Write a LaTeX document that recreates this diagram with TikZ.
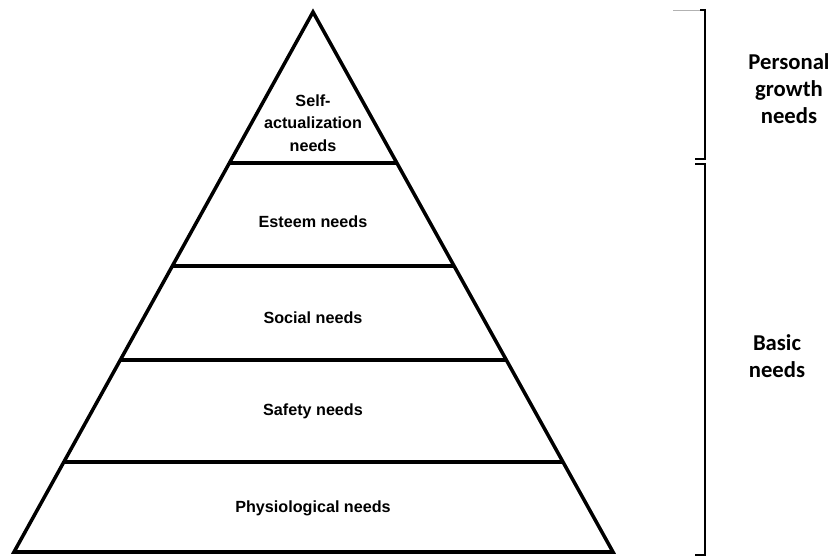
\documentclass[tikz,border=0pt]{standalone}
\usepackage{fontspec}
\setmainfont{Liberation Sans}
\newfontfamily\sidefont{Carlito}

\tikzset{
  level/.style={font=\fontsize{9.2}{12.8}\selectfont\bfseries, align=center},
  side/.style={font=\fontsize{12.9}{15.3}\selectfont\sidefont\bfseries, align=center},
  wall/.style={line width=2pt, line join=miter},
  brace/.style={line width=1.2pt}
}

\begin{document}
\begin{tikzpicture}[x=0.02cm, y=-0.02cm]
  \useasboundingbox (0,0) rectangle (835,557);
  % outline of the pyramid
  \coordinate (apex) at (313,12);
  \coordinate (bl) at (14,552);
  \coordinate (br) at (613,552);
  \draw[wall] (apex) -- (br) -- (bl) -- cycle;
  % dividing lines between the levels
  \foreach \y in {163,266,360,462}
    \draw[wall] ({313-0.5546*(\y-12)},\y) -- ({313+0.5546*(\y-12)},\y);
  \node[level] (self)   at (313,123) {Self-\\actualization\\needs};
  \node[level] (esteem) at (313,222) {Esteem needs};
  \node[level] (social) at (313,318) {Social needs};
  \node[level] (safety) at (313,411) {Safety needs};
  \node[level] (phys)   at (313,508) {Physiological needs};
  % brackets on the right
  \draw[gray!60, thin] (673,10) -- (704,10);
  \draw[brace] (700,10) -- (705,10) -- (705,159) -- (695,159);
  \draw[brace] (695,164) -- (705,164) -- (705,555) -- (695,555);
  \node[side] (growth) at (789,89)  {Personal\\growth\\needs};
  \node[side] (basic)  at (777,356) {Basic\\needs};
\end{tikzpicture}
\end{document}
